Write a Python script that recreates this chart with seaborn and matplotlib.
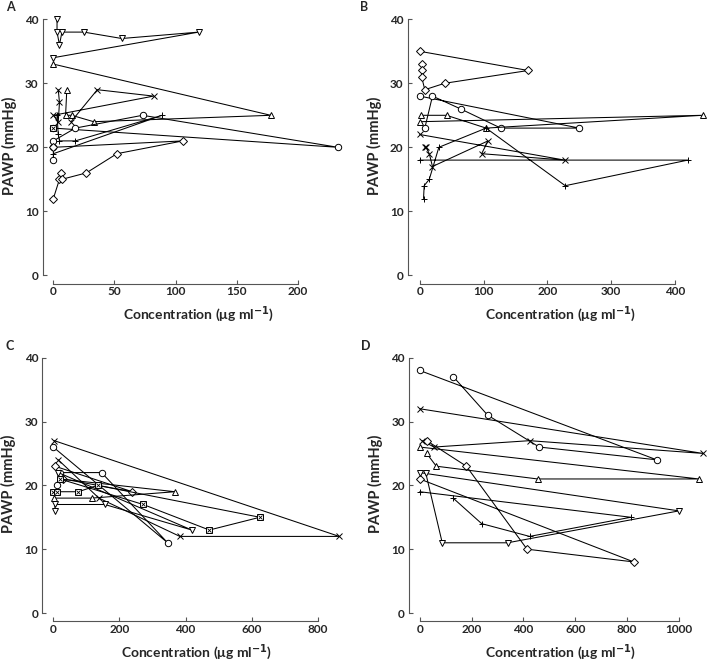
import pandas as pd
import seaborn as sns
import matplotlib.pyplot as plt

# --- panel A (each list = one patient, points in sampling order) ---
a_dn_x = [3, 3, 5, 7, 25, 56, 119, 0]
a_dn_y = [40, 38, 36, 38, 38, 37, 38, 34]
a_up_x = [11, 10, 15, 33, 178, 0]
a_up_y = [29, 25, 25, 24, 25, 33]
a_x_x = [4, 5, 4, 0, 82, 36, 14.5]
a_x_y = [29, 27, 24, 25, 28, 29, 24]
a_o_x = [0, 0, 0, 18, 73, 233, 0]
a_o_y = [18, 20, 21, 23, 25, 20, 23]
a_p_x = [0, 89, 18, 5, 4, 3]
a_p_y = [19, 25, 21, 21, 22, 25]
a_d_x = [0, 5, 6, 7, 27, 52, 106, 0]
a_d_y = [12, 15, 16, 15, 16, 19, 21, 20]
a_b_x = [0]
a_b_y = [23]

# --- panel B ---
b_d_x = [4, 3, 3, 8, 39, 170, 0]
b_d_y = [33, 32, 31, 29, 30, 32, 35]
b_o_x = [8, 20, 64, 127, 250, 0]
b_o_y = [23, 28, 26, 23, 23, 28]
b_up_x = [2, 42, 104, 443, 0]
b_up_y = [25, 25, 23, 25, 24]
b_x_x = [8, 10, 15, 20, 107, 97, 227, 0]
b_x_y = [20, 20, 19, 17, 21, 19, 18, 22]
b_p_x = [6, 7, 15, 30, 104, 228, 420, 0]
b_p_y = [12, 14, 15, 20, 23, 14, 18, 18]

# --- panel C ---
c_x_x = [15, 138, 383, 865, 3]
c_x_y = [24, 18, 12, 12, 27]
c_o_x = [0, 346, 146, 20, 10]
c_o_y = [26, 11, 22, 22, 20]
c_d_x = [5, 239, 30]
c_d_y = [23, 19, 21]
c_up_x = [2, 116, 368, 20]
c_up_y = [18, 18, 19, 21]
c_dn_x = [5, 5, 156, 419, 15]
c_dn_y = [16, 17, 17, 13, 22]
c_b_x = [0, 10, 76, 134, 625, 472, 272, 20]
c_b_y = [19, 19, 19, 20, 15, 13, 17, 21]

# --- panel D ---
d_o_x = [0, 914, 461, 262, 130]
d_o_y = [38, 24, 26, 31, 37]
d_x_x = [10, 55, 424, 1093, 0]
d_x_y = [27, 26, 27, 25, 32]
d_d_x = [27, 180, 414, 826, 0]
d_d_y = [27, 23, 10, 8, 21]
d_up_x = [27, 64, 455, 1077, 0]
d_up_y = [25, 23, 21, 21, 26]
d_dn_x = [23, 87, 339, 1000, 0]
d_dn_y = [22, 11, 11, 16, 22]
d_p_x = [0, 814, 424, 239, 129]
d_p_y = [19, 15, 12, 14, 18]

panels = {
    'A': [('v', a_dn_x, a_dn_y), ('^', a_up_x, a_up_y), ('x', a_x_x, a_x_y),
          ('o', a_o_x, a_o_y), ('+', a_p_x, a_p_y), ('D', a_d_x, a_d_y),
          ('sx', a_b_x, a_b_y)],
    'B': [('D', b_d_x, b_d_y), ('o', b_o_x, b_o_y), ('^', b_up_x, b_up_y),
          ('x', b_x_x, b_x_y), ('+', b_p_x, b_p_y)],
    'C': [('x', c_x_x, c_x_y), ('o', c_o_x, c_o_y), ('D', c_d_x, c_d_y),
          ('^', c_up_x, c_up_y), ('v', c_dn_x, c_dn_y), ('sx', c_b_x, c_b_y)],
    'D': [('o', d_o_x, d_o_y), ('x', d_x_x, d_x_y), ('D', d_d_x, d_d_y),
          ('^', d_up_x, d_up_y), ('v', d_dn_x, d_dn_y), ('+', d_p_x, d_p_y)],
}
xticks = {'A': [0, 50, 100, 150, 200], 'B': [0, 100, 200, 300, 400],
          'C': [0, 200, 400, 600, 800], 'D': [0, 200, 400, 600, 800, 1000]}
xlims = {'A': (-3, 240), 'B': (-8, 448), 'C': (-12, 880), 'D': (-15, 1100)}
# axes rectangles in pixels: left, right, top, bottom
rects = {'A': (49.7, 346.5, 12.9, 278.5), 'B': (414.6, 705.7, 12.9, 278.5),
         'C': (49.3, 344.2, 351.3, 616.2), 'D': (415.8, 704.9, 351.3, 616.2)}

sns.set_theme(style='ticks')
plt.rcParams['font.family'] = ['Lato', 'DejaVu Sans']
plt.rcParams['font.weight'] = 'bold'

W, H = 708, 662
fig = plt.figure(figsize=(W / 100, H / 100), dpi=100)
axc = '#555555'

for name, series in panels.items():
    l, r, t, b = rects[name]
    ax = fig.add_axes([l / W, 1 - b / H, (r - l) / W, (b - t) / H])
    for pid, (m, xs, ys) in enumerate(series):
        df = pd.DataFrame({'conc': xs, 'pawp': ys})
        mk = 's' if m == 'sx' else m
        ms = 3.6 if m == 'D' else (5 if m in '+x' else 4.6)
        sns.lineplot(data=df, x='conc', y='pawp', sort=False, estimator=None,
                     marker=mk, color='black', linewidth=0.75,
                     markerfacecolor='white', markeredgecolor='black',
                     markeredgewidth=0.7, markersize=ms, ax=ax, clip_on=False)
        if m == 'sx':
            sns.scatterplot(data=df, x='conc', y='pawp', marker='x', color='black',
                            s=8, linewidth=0.6, ax=ax, clip_on=False, zorder=5)
    ax.set_xlim(xlims[name])
    ax.set_ylim(-0.5, 41)
    ax.set_xticks(xticks[name])
    ax.set_yticks([0, 10, 20, 30, 40])
    ax.tick_params(direction='in', length=3, width=0.8, color=axc,
                   labelsize=8.5, pad=3)
    ax.tick_params(axis='x', pad=2)
    for s in ax.spines.values():
        s.set_color(axc)
        s.set_linewidth(0.8)
    sns.despine(ax=ax, offset={'left': 5, 'bottom': 3.6}, trim=True)
    ax.set_xlabel('Concentration (μg ml$^{\\mathbf{-1}}$)', fontsize=10,
                  fontweight='bold', labelpad=5)
    ax.set_ylabel('PAWP (mmHg)', fontsize=10.5, fontweight='bold', labelpad=6)
    fig.text((l - 44) / W if name in 'AC' else (l - 55) / W,
             1 - (t - 6) / H if name in 'AB' else 1 - (t - 5) / H,
             name, fontsize=9, fontweight='bold', ha='left', va='center')

fig.savefig('out.png', dpi=100)
